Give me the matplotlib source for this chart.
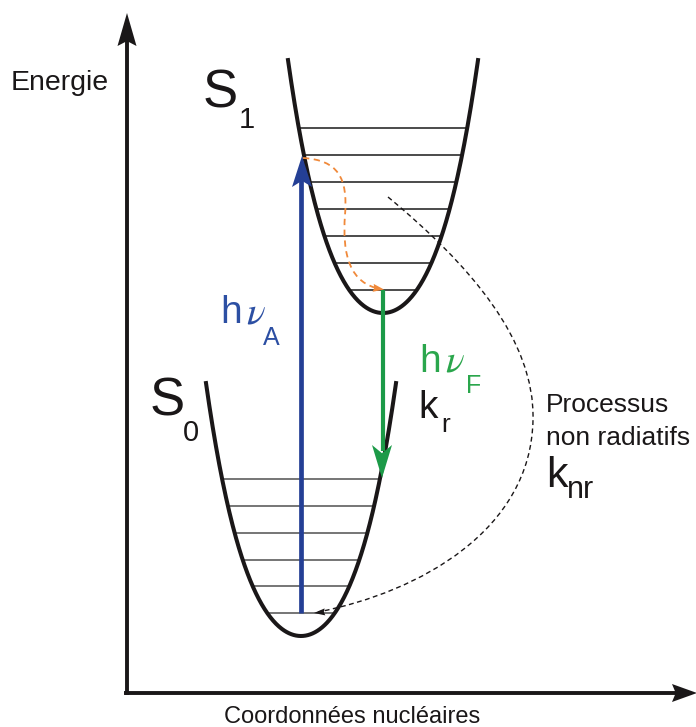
import numpy as np
import matplotlib
matplotlib.use("Agg")
import matplotlib.pyplot as plt
from matplotlib.patches import Polygon, PathPatch
from matplotlib.path import Path

plt.rcParams['font.family'] = ['Liberation Sans', 'DejaVu Sans']

##############################
# potential wells (pixel units, y grows downward)
s0_center, s0_bottom = 301, 636
s1_center, s1_bottom = 383, 313
well_halfwidth = 95
well_a, well_b = 0.019, 1.0e-6       # depth = a*u^2 + b*u^4

s0_levels = [479, 506, 533, 560, 586, 613]
s1_levels = [128, 155, 182, 209, 236, 263, 290]

# transitions
x_absorption = 301
x_fluo = 383

# vibrational relaxation (orange) and non radiative path (black), bezier controls
relax_path = [(303, 158), (338, 160), (348, 178), (345, 215),
              (342, 255), (350, 284), (381, 289)]
nr_path = [(388, 197), (470, 265), (535, 340), (533, 420),
           (531, 530), (420, 592), (318, 612)]

blue = '#243f95'
blue_txt = '#2c4fa3'
green = '#1c9a48'
green_txt = '#2aa64c'
orange = '#f0893a'
ink = '#1a1718'


def depth(u):
    return well_a * u**2 + well_b * u**4


def half_width(d):
    return np.sqrt((-well_a + np.sqrt(well_a**2 + 4 * well_b * d)) / (2 * well_b))


def arrow_head(ax, tip, direction, length, width, color, notch=0.2):
    d = np.array(direction, float)
    d = d / np.hypot(*d)
    n = np.array([-d[1], d[0]])
    tip = np.array(tip, float)
    base = tip - d * length
    pts = [tip, base + n * width / 2, tip - d * length * (1 - notch), base - n * width / 2]
    ax.add_patch(Polygon(pts, closed=True, facecolor=color, edgecolor='none', zorder=5))


def bezier(pts):
    codes = [Path.MOVETO] + [Path.CURVE4] * (len(pts) - 1)
    return Path(pts, codes)


fig = plt.figure(figsize=(6.96, 7.27), dpi=100)
ax = fig.add_axes([0, 0, 1, 1])
ax.set_xlim(0, 696)
ax.set_ylim(727, 0)
ax.axis('off')

# axes of the diagram
ax.plot([127, 127], [695, 40], color=ink, lw=2.8, solid_capstyle='butt')
arrow_head(ax, (127, 13), (0, -1), 33, 19, ink, notch=0.15)
ax.plot([124, 680], [693, 693], color=ink, lw=2.8, solid_capstyle='butt')
arrow_head(ax, (697, 693), (1, 0), 25, 18, ink, notch=0.15)

# wells + levels
u = np.linspace(-well_halfwidth, well_halfwidth, 400)
for xc, yb, levels, lc in [(s0_center, s0_bottom, s0_levels, '#505050'),
                           (s1_center, s1_bottom, s1_levels, '#1a1a1a')]:
    ax.plot(xc + u, yb - depth(np.abs(u)), color=ink, lw=2.9, zorder=3)
    for y in levels:
        hw = half_width(yb - y)
        ax.plot([xc - hw, xc + hw], [y, y], color=lc, lw=1.1, zorder=2)

# absorption
ax.plot([x_absorption, x_absorption], [s0_levels[-1], s1_levels[1] + 25],
        color=blue, lw=3.4, solid_capstyle='butt', zorder=4)
arrow_head(ax, (x_absorption + 1, s1_levels[1] + 1), (0, -1), 31, 20, blue, notch=0.2)

# fluorescence
ax.plot([x_fluo, x_fluo], [s1_levels[-1], s0_levels[0] - 28],
        color=green, lw=3.0, solid_capstyle='butt', zorder=4)
arrow_head(ax, (x_fluo - 1, s0_levels[0] - 1), (0, 1), 33, 20, green, notch=0.25)

# relaxation paths
ax.add_patch(PathPatch(bezier(relax_path), fill=False, edgecolor=orange, lw=1.3,
                       linestyle=(0, (3.5, 2.5)), zorder=4))
arrow_head(ax, (384, 289.5), (1, 0.15), 11, 8, orange, notch=0.1)

ax.add_patch(PathPatch(bezier(nr_path), fill=False, edgecolor=ink, lw=1.0,
                       linestyle=(0, (3.5, 2.5)), zorder=4))
arrow_head(ax, (314, 613), (-1, 0.1), 11, 7, ink, notch=0.1)

# labels
ax.text(11, 90, 'Energie', fontsize=20.5, color=ink)
ax.text(352, 723, 'Coordonnées nucléaires', fontsize=17, color=ink, ha='center')

ax.text(203, 107, 'S', fontsize=38, color=ink)
ax.text(239, 128, '1', fontsize=21, color=ink)
ax.text(150, 415, 'S', fontsize=38, color=ink)
ax.text(183, 441, '0', fontsize=21, color=ink)

ax.text(220, 323, 'h', fontsize=28, color=blue_txt)
ax.text(246, 323, r'$\nu$', fontsize=28, color=blue_txt, math_fontfamily='stix')
ax.text(263, 345, 'A', fontsize=18, color=blue_txt)

ax.text(419, 372, 'h', fontsize=28, color=green_txt)
ax.text(445, 372, r'$\nu$', fontsize=28, color=green_txt, math_fontfamily='stix')
ax.text(466, 393, 'F', fontsize=18, color=green_txt)

ax.text(418, 418, 'k', fontsize=28, color=ink)
ax.text(441, 432, 'r', fontsize=19, color=ink)

ax.text(546, 412, 'Processus', fontsize=19, color=ink)
ax.text(546, 445, 'non radiatifs', fontsize=19, color=ink)
ax.text(546, 487, 'k', fontsize=31, color=ink)
ax.text(567, 498, 'nr', fontsize=22, color=ink)

fig.savefig('out.png', dpi=100)
